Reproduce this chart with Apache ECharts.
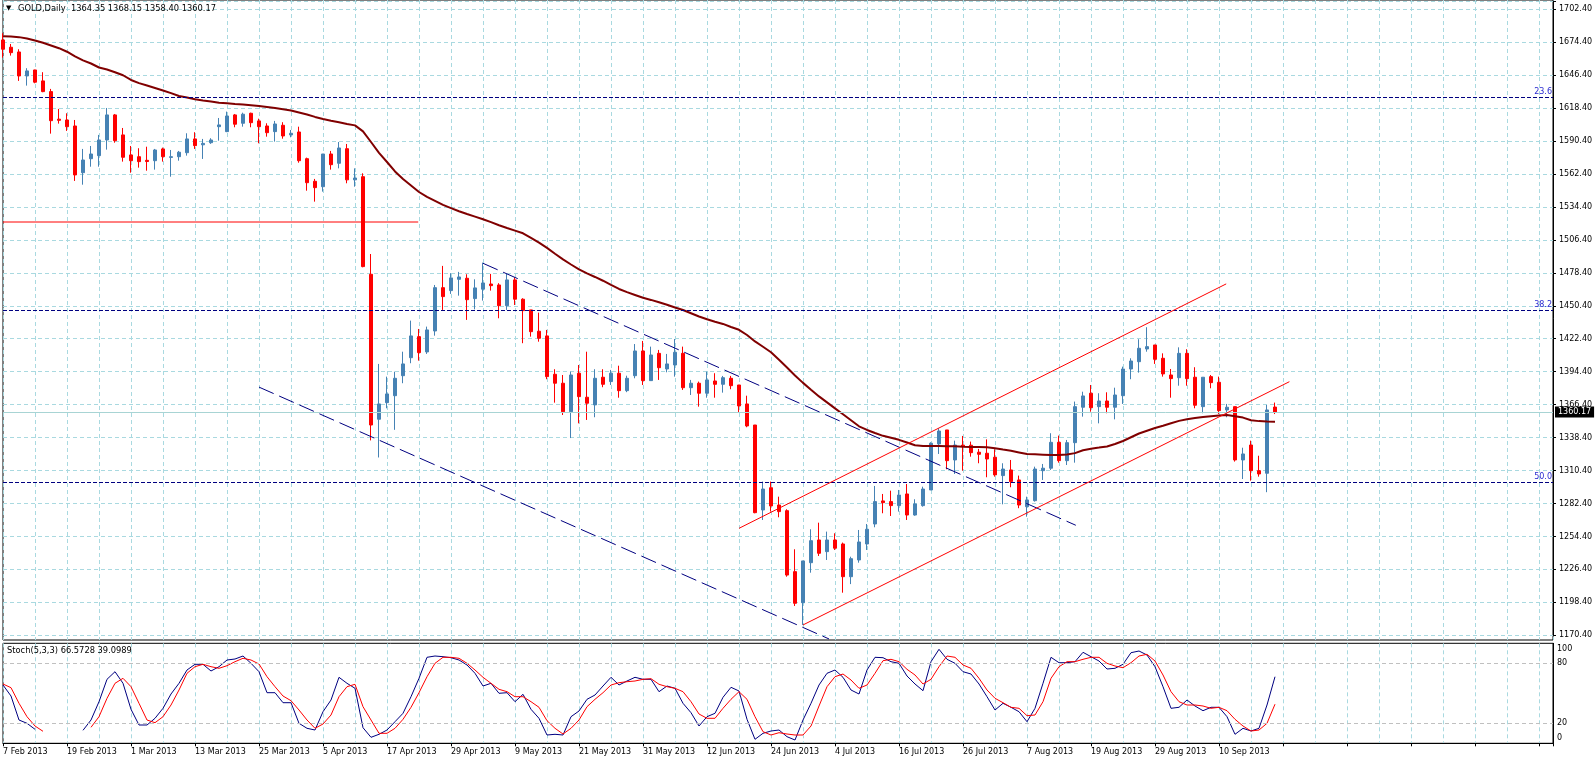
<!DOCTYPE html>
<html>
<head>
<meta charset="utf-8">
<title>GOLD,Daily</title>
<script src="https://cdn.jsdelivr.net/npm/echarts@6.0.0/dist/echarts.min.js"></script>
<style>
html,body{margin:0;padding:0;background:#fff;}
#chart{width:1596px;height:762px;}
</style>
</head>
<body>
<div id="chart"></div>
<script>
// 日线数据，第0根 = 7 Feb 2013
var dateLabels = ['7 Feb 2013','19 Feb 2013','1 Mar 2013','13 Mar 2013','25 Mar 2013','5 Apr 2013',
    '17 Apr 2013','29 Apr 2013','9 May 2013','21 May 2013','31 May 2013','12 Jun 2013','24 Jun 2013',
    '4 Jul 2013','16 Jul 2013','26 Jul 2013','7 Aug 2013','19 Aug 2013','29 Aug 2013','10 Sep 2013'];

var open = [1676.3,1670.1,1666.1,1645.7,1650.8,1641.5,1632.4,1609.0,1608.3,1603.2,
1563.5,1575.4,1578.0,1591.3,1612.6,1595.6,1578.6,1577.1,1574.0,1573.7,
1583.7,1576.5,1577.1,1580.5,1592.2,1587.2,1589.0,1602.6,1598.4,1612.6,
1605.5,1614.0,1607.5,1603.2,1598.4,1603.8,1595.6,1598.1,1575.4,1556.2,
1551.6,1579.4,1571.5,1583.9,1557.4,1560.1,1477.2,1354.0,1368.1,1374.0,
1391.0,1406.3,1424.2,1411.2,1429.0,1465.8,1463.3,1472.9,1473.8,1456.5,
1464.5,1468.9,1468.1,1450.5,1472.4,1456.0,1446.9,1428.8,1424.8,1392.2,
1384.6,1360.4,1393.1,1372.7,1366.2,1389.7,1386.0,1393.1,1378.3,1391.0,
1412.0,1386.8,1410.0,1396.7,1400.1,1410.0,1380.8,1384.6,1376.1,1386.5,
1383.7,1388.8,1383.1,1367.0,1349.1,1276.9,1295.8,1281.1,1276.3,1224.5,
1198.1,1232.1,1251.4,1241.5,1251.4,1248.0,1220.2,1234.4,1248.0,1265.0,
1284.6,1284.0,1280.6,1290.5,1272.6,1280.6,1293.9,1333.0,1344.9,1319.4,
1332.0,1331.9,1326.0,1325.1,1321.7,1306.1,1310.9,1302.4,1279.7,1284.8,
1310.3,1312.4,1334.4,1318.8,1334.1,1364.2,1376.1,1364.7,1369.5,1364.2,
1374.0,1396.7,1402.9,1413.7,1417.1,1405.8,1391.6,1389.3,1410.0,1389.7,
1364.7,1390.2,1385.4,1361.9,1364.7,1319.4,1332.1,1310.3,1308.1,1364.35];

var high = [1682.0,1672.9,1668.4,1652.3,1651.0,1648.9,1634.7,1617.7,1614.0,1608.3,
1583.7,1586.2,1595.6,1618.5,1613.4,1601.5,1586.2,1584.3,1585.6,1583.7,
1584.8,1582.8,1582.0,1597.0,1597.9,1592.2,1592.8,1610.0,1615.4,1613.4,
1614.5,1614.5,1609.4,1605.5,1607.5,1606.4,1599.8,1602.6,1576.3,1558.2,
1579.4,1582.0,1589.6,1587.9,1567.2,1563.0,1494.4,1401.0,1390.2,1394.4,
1411.4,1437.8,1430.7,1432.7,1468.1,1484.3,1478.1,1479.2,1477.2,1472.9,
1487.1,1477.5,1469.6,1477.5,1474.6,1456.8,1446.9,1444.6,1429.9,1396.5,
1391.6,1394.4,1400.1,1411.4,1396.5,1396.5,1395.9,1399.5,1391.0,1417.9,
1420.5,1415.7,1412.9,1409.5,1422.2,1415.7,1387.4,1386.0,1394.4,1393.1,
1390.8,1390.8,1383.1,1374.0,1349.1,1301.0,1301.0,1288.2,1277.5,1243.5,
1233.6,1260.5,1266.1,1258.5,1257.1,1249.2,1237.2,1259.9,1265.0,1297.3,
1290.5,1293.3,1293.9,1299.0,1286.0,1296.7,1334.4,1346.3,1344.9,1335.8,
1339.8,1335.0,1328.8,1336.9,1328.5,1316.6,1319.4,1306.1,1288.2,1313.7,
1316.0,1342.1,1340.1,1336.4,1369.0,1377.4,1383.1,1376.1,1376.9,1380.8,
1398.7,1405.8,1422.0,1432.2,1417.1,1410.0,1396.7,1415.1,1413.5,1398.2,
1389.7,1391.6,1390.2,1367.0,1364.7,1329.8,1335.8,1323.0,1366.2,1368.15];

var low = [1661.3,1663.0,1641.5,1637.5,1639.5,1631.9,1596.7,1605.2,1599.0,1556.5,
1553.3,1568.6,1568.6,1583.1,1589.0,1572.9,1563.5,1567.8,1565.2,1566.1,
1572.9,1560.1,1573.7,1578.0,1583.7,1575.2,1588.0,1590.7,1598.0,1602.1,
1602.6,1602.1,1588.5,1594.1,1589.9,1592.4,1593.6,1572.0,1548.2,1538.9,
1547.4,1566.1,1567.2,1554.5,1551.6,1483.1,1336.0,1321.5,1363.3,1345.0,
1384.6,1401.6,1403.8,1409.5,1425.0,1446.9,1460.5,1459.0,1438.4,1447.4,
1454.8,1463.3,1439.8,1446.9,1451.1,1418.6,1424.2,1419.9,1388.0,1368.1,
1357.6,1338.0,1350.5,1353.4,1355.7,1381.2,1383.1,1372.3,1377.0,1388.8,
1383.1,1386.8,1387.4,1393.9,1390.2,1378.9,1374.6,1364.7,1372.3,1372.3,
1376.6,1379.5,1359.6,1347.2,1274.1,1268.4,1275.5,1270.7,1220.2,1195.3,
1179.2,1223.6,1237.8,1234.4,1242.9,1206.6,1213.9,1232.1,1242.9,1262.2,
1274.1,1271.8,1275.5,1268.4,1272.0,1279.7,1293.9,1324.5,1311.5,1307.5,
1310.3,1322.2,1316.6,1304.7,1305.2,1281.7,1296.2,1278.4,1271.2,1284.0,
1302.4,1310.9,1317.1,1315.1,1317.1,1356.2,1360.4,1350.5,1359.1,1353.9,
1367.0,1388.0,1393.6,1411.4,1401.0,1390.2,1372.3,1382.5,1382.5,1363.3,
1359.1,1380.3,1358.5,1355.7,1318.0,1303.2,1301.8,1305.2,1292.0,1358.40];

var close = [1668.4,1665.5,1645.7,1650.0,1640.4,1632.4,1607.7,1608.0,1602.6,1561.6,
1574.3,1579.4,1591.3,1612.6,1590.7,1576.6,1573.7,1572.9,1573.0,1582.8,
1577.1,1577.1,1580.9,1592.2,1586.5,1588.4,1591.3,1604.1,1611.7,1604.7,
1613.2,1606.0,1602.6,1597.5,1604.9,1594.7,1597.0,1573.7,1555.0,1550.8,
1579.4,1570.3,1584.5,1557.4,1559.0,1483.7,1349.1,1367.0,1375.5,1388.8,
1401.0,1424.8,1410.6,1429.9,1465.8,1458.2,1474.1,1474.9,1455.6,1465.6,
1469.8,1467.5,1450.5,1472.4,1456.0,1446.3,1428.4,1422.8,1390.2,1384.6,
1360.4,1391.6,1373.2,1367.6,1388.8,1383.7,1393.1,1378.3,1388.8,1412.0,
1386.8,1408.6,1397.8,1401.0,1410.9,1380.8,1384.6,1376.1,1387.4,1383.7,
1389.3,1382.5,1365.3,1348.3,1274.6,1294.7,1280.3,1275.5,1221.6,1197.6,
1233.6,1250.8,1240.1,1251.4,1244.4,1220.2,1235.5,1249.7,1260.5,1284.0,
1283.1,1280.6,1289.6,1272.6,1282.0,1294.7,1333.6,1344.0,1318.8,1332.1,
1331.0,1325.6,1324.2,1320.2,1306.7,1311.7,1301.0,1281.1,1285.4,1311.7,
1312.4,1334.4,1318.8,1334.1,1364.7,1373.8,1363.8,1369.5,1364.2,1374.6,
1396.7,1403.5,1414.3,1415.7,1404.9,1392.5,1388.5,1410.0,1388.5,1365.9,
1389.7,1385.1,1361.3,1364.2,1319.4,1324.5,1310.3,1307.5,1361.9,1360.17];

// 均线
var ma = [1679.5,1679.2,1678.7,1677.6,1675.9,1673.9,1671.6,1669.3,1666.3,1662.3,
1658.9,1656.3,1652.9,1651.2,1648.9,1646.3,1642.3,1639.6,1637.6,1635.5,
1633.4,1631.1,1628.7,1627.4,1625.9,1624.9,1624.0,1623.0,1622.5,1621.9,
1621.4,1620.8,1620.2,1619.4,1618.5,1617.5,1616.4,1614.7,1613.0,1610.9,
1609.2,1607.7,1606.4,1604.9,1603.7,1598.6,1589.6,1580.3,1572.6,1564.6,
1558.2,1552.7,1547.1,1542.9,1539.5,1536.1,1533.4,1530.7,1528.4,1526.2,
1523.9,1521.5,1518.8,1516.5,1514.3,1512.0,1508.1,1504.1,1499.6,1494.6,
1489.8,1485.5,1481.4,1477.9,1474.9,1471.7,1468.1,1464.7,1462.0,1459.6,
1457.2,1455.4,1453.4,1451.3,1449.0,1446.8,1444.1,1441.3,1439.0,1436.9,
1435.0,1432.4,1430.0,1425.6,1420.1,1415.6,1410.9,1404.5,1398.0,1391.2,
1384.9,1379.1,1373.4,1368.3,1363.2,1358.2,1353.1,1348.0,1344.9,1342.3,
1339.9,1338.2,1336.5,1334.2,1331.9,1331.3,1331.3,1331.3,1331.1,1331.0,
1330.7,1330.5,1330.4,1330.1,1329.4,1328.2,1327.2,1325.8,1324.4,1324.2,
1323.9,1323.6,1323.6,1324.0,1325.2,1327.6,1329.0,1329.9,1330.9,1333.0,
1335.5,1338.7,1341.9,1344.2,1346.5,1348.5,1350.6,1352.6,1354.0,1355.0,
1355.9,1356.6,1357.1,1357.6,1356.6,1355.4,1353.2,1352.4,1352.0,1351.9];

// Stoch(5,3,3) 主线 / 信号线
var stochK = [58.3,47.3,23.3,20,14,null,null,null,null,null,
13,23.3,41.6,64,71.6,60,34,18.3,18.3,25,
35,49.3,60,73.3,79,79,72.3,76.6,83.3,84.3,
87.3,80,71.6,50.6,50.6,40.6,40.6,20,15,13.3,
31.6,43.3,66,60,55,15.6,6,9,13.3,21.6,
30,46.6,65,86,87.3,86.6,85.6,83.3,78.3,70,
57.3,60,50,50.6,41.6,49,34,25,8.3,9,
8.3,26.6,32.3,44,48.3,57.3,66,58.3,62.3,66,
64,64,51.6,57.3,55,40,30.6,17.3,26.6,30,
46,56,52.3,24,4,10,12.3,13.3,6.6,3.3,
23.3,40,58.3,70,73.3,66,53.3,49.3,73.3,86,
85.6,81.6,80,67.3,59.3,52.6,81.6,94,84,80,
71.6,69.3,59.3,46.6,33.3,40,36,31.6,21.6,35,
60,86,80.6,80.6,81.6,91,86.6,82.3,74.3,75,
79,90.6,92.3,88.3,76.6,56.6,35,36,43.3,37.3,
32.6,36,36,26.6,9,15,12.3,15,38.3,66.57];

var stochD = [59.3,55.6,40,26.6,17.3,12,null,null,null,null,
null,16,26.6,45,60,65,56.6,40,23.3,20.6,
26.6,38.3,53.3,70,76.6,79,76.6,75,77.6,81.6,
85,83.3,79.3,66.6,56.6,47.3,42.6,33.3,23.3,15,
19.3,28.3,46.6,56.6,59,36.6,23.3,10,10,15,
24,36,50.6,66.6,80,86,86,85,80,73.3,
66,60,54,51.6,46.6,46.6,41.6,36,22.6,15,
9.3,15,23.3,36.6,44,50.6,58.3,60.6,61.6,62.3,
64,64.6,59,56.6,55,51.6,41.6,29.3,25,25,
35,44,51.6,44,26.6,11.6,8.3,10.6,9.3,8.3,
8.3,17.3,37.3,56.6,66.6,69.3,63.3,55,58.3,70,
82.6,84,81.6,74,68.3,59.3,64,76.6,87.3,86,
78.3,75,65,53.3,45,40.6,36,35,27.6,28.3,
41.6,65,76.6,81.6,81.6,84,86,86,80,77.3,
75.6,80.6,87.3,89,82.3,68.3,51.6,41.6,38.3,38.3,
37.3,35,36,32.6,24,17.3,12.3,13.3,20,39.1];

// 斐波那契水平线
var fibLevels = [1627.6, 1446.9, 1300.4];
var fibNames = ['23.6', '38.2', '50.0'];
var lastPrice = 1360.17;
var header = ['1364.35', '1368.15', '1358.40', '1360.17'];
var stochHeader = ['66.5728', '39.0989'];

// 趋势线 [bar, price]
var blueUpper = [[60, 1486.5], [134.1, 1263.9]];
var blueLower = [[32, 1381.3], [103.25, 1167.3]];
var redUpper = [[92, 1261.3], [152.9, 1469.0]];
var redLower = [[100, 1179.2], [160.8, 1385.9]];
var redFlat = [[0, 1521.6], [51.9, 1521.6]];

var PRICE_MIN = 1170.4, PRICE_STEP = 28, PRICE_MAX = 1709.4;
var X_MAX = 193.75;
var FONT = 'DejaVu Sans';
var GRID_CLR = '#a9d9e0';

function pairs(arr) {
    return arr.map(function (v, i) { return [i, v == null ? '-' : v]; });
}

var candles = open.map(function (o, i) { return [i, o, close[i], low[i], high[i]]; });

var fibLines = fibLevels.map(function (v, i) {
    return {
        yAxis: v,
        lineStyle: {color: '#000080', type: [4, 2], width: 1},
        label: {show: true, position: 'insideEndTop', distance: 1, formatter: fibNames[i],
            color: '#2a2ad0', fontSize: 8, fontFamily: FONT}
    };
});
fibLines.push({
    yAxis: lastPrice,
    lineStyle: {color: '#a8d4d4', type: 'solid', width: 1},
    label: {show: true, position: 'end', distance: 2, formatter: lastPrice.toFixed(2),
        color: '#fff', backgroundColor: '#000', padding: [2, 3, 1, 3], fontSize: 8, fontFamily: FONT}
});

function trend(data, color, dashed) {
    return {
        type: 'line', xAxisIndex: 1, yAxisIndex: 1, data: data,
        showSymbol: false, symbol: 'none', silent: true, clip: false, z: 5,
        lineStyle: {color: color, width: 1, type: dashed ? [16, 6] : 'solid'}
    };
}

var option = {
    animation: false,
    backgroundColor: '#fff',
    textStyle: {fontFamily: FONT},
    title: [
        {text: '▼', left: 6, top: 5, padding: 0, textStyle: {fontSize: 7, fontWeight: 'normal', color: '#000', fontFamily: FONT}},
        {text: 'GOLD,Daily  ' + header.join(' '), left: 18, top: 5, padding: 0,
            textStyle: {fontSize: 8.3, fontWeight: 'normal', color: '#000', fontFamily: FONT}},
        {text: 'Stoch(5,3,3) ' + stochHeader.join(' '), left: 7, top: 647, padding: 0,
            textStyle: {fontSize: 8.3, fontWeight: 'normal', color: '#000', fontFamily: FONT}}
    ],
    grid: [
        // 主图边框 + 竖向网格
        {left: 3, right: 43, top: 0, height: 640, show: true, borderColor: '#000', borderWidth: 1,
            backgroundColor: 'transparent', containLabel: false, outerBoundsMode: 'none'},
        // 主图数据区
        {left: 3, right: 43, top: 1, height: 634.3, containLabel: false, outerBoundsMode: 'none'},
        // 随机指标
        {left: 3, right: 43, top: 643.3, height: 100, show: true, borderColor: '#000', borderWidth: 1,
            backgroundColor: 'transparent', containLabel: false, outerBoundsMode: 'none'}
    ],
    xAxis: [
        {type: 'value', gridIndex: 0, min: 0, max: X_MAX, interval: 4,
            axisLine: {show: false}, axisTick: {show: false}, axisLabel: {show: false},
            splitLine: {show: true, lineStyle: {color: GRID_CLR, type: [4, 3], width: 1}}},
        {type: 'value', gridIndex: 1, min: 0, max: X_MAX, show: false},
        {type: 'value', gridIndex: 2, min: 0, max: X_MAX, interval: 8,
            axisLine: {show: true, onZero: false, lineStyle: {color: '#000', width: 1}},
            axisTick: {show: true, length: 3, lineStyle: {color: '#000'}},
            axisLabel: {show: true, align: 'left', margin: 5, color: '#000', fontSize: 8, fontFamily: FONT,
                showMinLabel: true, showMaxLabel: true,
                formatter: function (v) {
                    if (Math.abs(v % 8) > 1e-6) return '';
                    return dateLabels[v / 8] || '';
                }},
            splitLine: {show: true, lineStyle: {color: GRID_CLR, type: [4, 3], width: 1}},
            minorTick: {show: false, splitNumber: 2},
            minorSplitLine: {show: true, lineStyle: {color: GRID_CLR, type: [4, 3], width: 1}}}
    ],
    yAxis: [
        {type: 'value', gridIndex: 0, min: 0, max: 1, show: false},
        {type: 'value', gridIndex: 1, position: 'right', min: PRICE_MIN, max: PRICE_MAX, interval: PRICE_STEP,
            axisLine: {show: true, onZero: false, lineStyle: {color: '#000', width: 1}},
            axisTick: {show: true, length: 3, lineStyle: {color: '#000'}},
            axisLabel: {show: true, margin: 6, color: '#000', fontSize: 8, fontFamily: FONT,
                showMinLabel: true, showMaxLabel: true,
                formatter: function (v) {
                    var k = (v - PRICE_MIN) / PRICE_STEP;
                    return Math.abs(k - Math.round(k)) < 1e-6 ? v.toFixed(2) : '';
                }},
            splitLine: {show: true, lineStyle: {color: GRID_CLR, type: [4, 3], width: 1}}},
        {type: 'value', gridIndex: 2, position: 'right', min: 0, max: 100, interval: 20,
            axisLine: {show: true, onZero: false, lineStyle: {color: '#000', width: 1}},
            axisTick: {show: false},
            axisLabel: {show: true, margin: 4, color: '#000', fontSize: 8, fontFamily: FONT,
                showMinLabel: true, showMaxLabel: true,
                formatter: function (v) {
                    if (v === 100) return '{t|100}';
                    if (v === 0) return '{b|0}';
                    if (v === 80 || v === 20) return String(v);
                    return '';
                },
                rich: {
                    t: {fontSize: 8, fontFamily: FONT, color: '#000', padding: [11, 0, 0, 0]},
                    b: {fontSize: 8, fontFamily: FONT, color: '#000', padding: [0, 0, 11, 0]}
                }},
            splitLine: {show: false}}
    ],
    series: [
        {
            type: 'candlestick', name: 'GOLD', xAxisIndex: 1, yAxisIndex: 1,
            data: candles, barWidth: 4, z: 3,
            itemStyle: {color: '#4682b4', color0: '#ff0000', borderColor: '#4682b4', borderColor0: '#ff0000', borderWidth: 1}
        },
        {
            type: 'line', name: 'MA', xAxisIndex: 1, yAxisIndex: 1, data: pairs(ma),
            showSymbol: false, symbol: 'none', z: 4,
            lineStyle: {color: '#800000', width: 2},
            markLine: {silent: true, symbol: ['none', 'none'], animation: false, data: fibLines}
        },
        trend(blueUpper, '#000080', true),
        trend(blueLower, '#000080', true),
        trend(redUpper, '#ff0000', false),
        trend(redLower, '#ff0000', false),
        trend(redFlat, '#ff0000', false),
        {
            type: 'line', name: 'K', xAxisIndex: 2, yAxisIndex: 2, data: pairs(stochK),
            showSymbol: false, symbol: 'none', connectNulls: false, z: 4,
            lineStyle: {color: '#000080', width: 1},
            markLine: {silent: true, symbol: ['none', 'none'], animation: false,
                label: {show: false},
                lineStyle: {color: '#c0c0c0', type: [4, 3], width: 1},
                data: [{yAxis: 80}, {yAxis: 20}]}
        },
        {
            type: 'line', name: 'D', xAxisIndex: 2, yAxisIndex: 2, data: pairs(stochD),
            showSymbol: false, symbol: 'none', connectNulls: false, z: 4,
            lineStyle: {color: '#ff0000', width: 1}
        }
    ]
};

// 渲染图表
function drawCharts(id, option) {
    var mychart = echarts.init(document.getElementById(id));
    mychart.setOption(option);
    window.addEventListener('resize', function () {
        mychart.resize();
    });
}

drawCharts('chart', option);
</script>
</body>
</html>
